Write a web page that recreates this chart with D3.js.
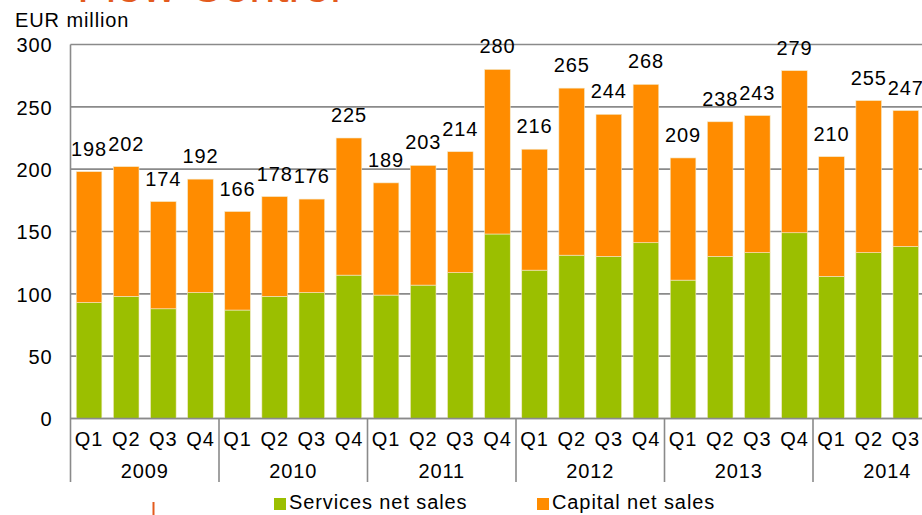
<!DOCTYPE html>
<html><head><meta charset="utf-8">
<script src="https://cdn.jsdelivr.net/npm/d3@7"></script>
<style>
html,body{margin:0;padding:0;background:#fff;overflow:hidden;}
text{font-family:"Liberation Sans",Arial,sans-serif;}
</style></head>
<body>
<svg id="c" width="922" height="515"></svg>
<script>
const years = ["2009","2010","2011","2012","2013","2014"];
const quarters = ["Q1","Q2","Q3","Q4"];
const categories = [
 "2009 Q1","2009 Q2","2009 Q3","2009 Q4",
 "2010 Q1","2010 Q2","2010 Q3","2010 Q4",
 "2011 Q1","2011 Q2","2011 Q3","2011 Q4",
 "2012 Q1","2012 Q2","2012 Q3","2012 Q4",
 "2013 Q1","2013 Q2","2013 Q3","2013 Q4",
 "2014 Q1","2014 Q2","2014 Q3"];
const totals = [198,202,174,192,166,178,176,225,189,203,214,280,216,265,244,268,209,238,243,279,210,255,247];
const services = [93,98,88,101,87,98,101,115,99,107,117,148,119,131,130,141,111,130,133,149,114,133,138];
const capital = totals.map((t,i)=>t-services[i]);
const yTicks = [0,50,100,150,200,250,300];
const seriesNames = ["Services net sales","Capital net sales"];
const colors = ["#9BBF00","#FF8C00"];

const FS = 20, LS = "0.9px";
const svg = d3.select("#c");
const left = 70.5, bandW = 37.125;
const x = d3.scaleBand().domain(categories).range([left, left + bandW*categories.length]).paddingInner(0.31).paddingOuter(0.155);
const y = d3.scaleLinear().domain([0,300]).range([418.5,44.5]);

// title (cut off at top)
svg.append("text").attr("x",77).attr("y",2).attr("font-size",47).attr("fill","#E35B1E").text("Flow Control");

// unit label
svg.append("text").attr("x",15).attr("y",27).attr("font-size",FS).attr("letter-spacing",LS).attr("fill","#000").text("EUR million");

// gridlines
svg.append("g").selectAll("line").data(yTicks).join("line")
  .attr("x1",left).attr("x2",925).attr("y1",d=>y(d)).attr("y2",d=>y(d))
  .attr("stroke","#8a8a8a").attr("stroke-width",1.6);

// y axis labels
const yAxis = d3.axisLeft(y).tickValues(yTicks).tickSize(0).tickPadding(18);
const ga = svg.append("g").attr("transform",`translate(${left},0)`).call(yAxis);
ga.select(".domain").remove();
ga.selectAll("text").attr("font-size",FS).attr("letter-spacing",LS).attr("fill","#000").attr("font-family","Liberation Sans, Arial, sans-serif").attr("dy","0.36em");

// stacked bars
const stack = d3.stack().keys([0,1]).value((d,k)=> k===0 ? services[d] : capital[d]);
const layers = stack(d3.range(categories.length));
svg.append("g").selectAll("g").data(layers).join("g").attr("fill",(d,i)=>colors[i])
  .selectAll("rect").data(d=>d).join("rect")
  .attr("x",(d,i)=>x(categories[i])).attr("width",x.bandwidth())
  .attr("y",d=>y(d[1])).attr("height",d=>y(d[0])-y(d[1]))
  .attr("stroke","#f4e9c8").attr("stroke-width",0.6);

// total labels
svg.append("g").selectAll("text").data(totals).join("text")
  .attr("x",(d,i)=>x(categories[i])+x.bandwidth()/2).attr("y",d=>y(d)-16)
  .attr("text-anchor","middle").attr("font-size",FS).attr("letter-spacing",LS).attr("fill","#000").text(d=>d);

// axis lines
svg.append("line").attr("x1",left).attr("x2",left).attr("y1",44.5).attr("y2",482).attr("stroke","#8a8a8a").attr("stroke-width",1.6);
svg.append("line").attr("x1",left).attr("x2",925).attr("y1",y(0)).attr("y2",y(0)).attr("stroke","#8a8a8a").attr("stroke-width",1.6);

// year separators
svg.append("g").selectAll("line").data(years.slice(1)).join("line")
  .attr("x1",(d,i)=>left+bandW*4*(i+1)).attr("x2",(d,i)=>left+bandW*4*(i+1))
  .attr("y1",y(0)).attr("y2",482).attr("stroke","#8a8a8a").attr("stroke-width",1.6);

// quarter labels
svg.append("g").selectAll("text").data(categories).join("text")
  .attr("x",d=>x(d)+x.bandwidth()/2).attr("y",446)
  .attr("text-anchor","middle").attr("font-size",FS).attr("letter-spacing",LS).attr("fill","#000").text(d=>d.split(" ")[1]);

// year labels
svg.append("g").selectAll("text").data(years).join("text")
  .attr("x",(d,i)=>left+bandW*4*i+bandW*2).attr("y",478)
  .attr("text-anchor","middle").attr("font-size",FS).attr("letter-spacing",LS).attr("fill","#000").text(d=>d);

// legend
const legX = [274,537];
const lg = svg.append("g").selectAll("g").data(seriesNames).join("g");
lg.append("rect").attr("x",(d,i)=>legX[i]).attr("y",498).attr("width",12).attr("height",12).attr("fill",(d,i)=>colors[i]);
lg.append("text").attr("x",(d,i)=>legX[i]+15).attr("y",509).attr("font-size",FS).attr("letter-spacing",LS).attr("fill","#000").text(d=>d);

// small orange mark at bottom
svg.append("line").attr("x1",153.5).attr("x2",153.5).attr("y1",502).attr("y2",515).attr("stroke","#E35B1E").attr("stroke-width",2);
</script>
</body></html>
